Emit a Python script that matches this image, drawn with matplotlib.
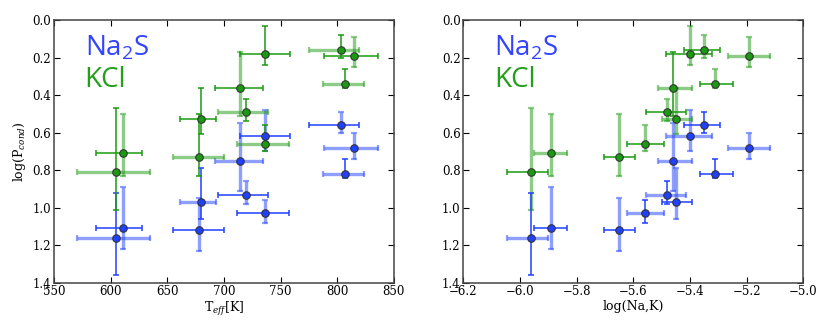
import numpy as np
import matplotlib
matplotlib.use("Agg")
import matplotlib.pyplot as plt

# 11 objets : Teff, log(Na,K), log(P_cond) pour Na2S et KCl
teff = [605, 611, 680, 678, 714.5, 719.5, 736.5, 736, 803, 815, 807]
teff_lo = [35, 23.5, 19, 23, 22, 25, 22, 24.5, 27.5, 27, 19.5]
teff_hi = [29.5, 17, 13, 22, 20, 19, 22, 21.5, 16.5, 21, 17]

nak = [-5.96, -5.89, -5.45, -5.65, -5.46, -5.48, -5.40, -5.56, -5.35, -5.19, -5.31]
nak_lo = [0.086, 0.060, 0.049, 0.054, 0.052, 0.076, 0.083, 0.062, 0.069, 0.076, 0.055]
nak_hi = [0.059, 0.056, 0.057, 0.056, 0.068, 0.067, 0.077, 0.067, 0.056, 0.074, 0.062]

p_kcl = [0.81, 0.71, 0.53, 0.73, 0.36, 0.49, 0.18, 0.66, 0.16, 0.19, 0.34]
p_kcl_lo = [0.34, 0.21, 0.17, 0.23, 0.19, 0.07, 0.15, 0.10, 0.08, 0.10, 0.08]
p_kcl_hi = [0.20, 0.12, 0.08, 0.10, 0.15, 0.05, 0.06, 0.04, 0.04, 0.06, 0.02]

p_na2s = [1.16, 1.11, 0.97, 1.12, 0.75, 0.93, 0.62, 1.03, 0.56, 0.68, 0.82]
p_na2s_lo = [0.24, 0.22, 0.18, 0.17, 0.20, 0.07, 0.14, 0.07, 0.07, 0.08, 0.08]
p_na2s_hi = [0.20, 0.11, 0.09, 0.11, 0.16, 0.05, 0.08, 0.05, 0.04, 0.06, 0.02]

# style des barres (x, y) : T = epaisse claire, t = fine foncee
sty_left_kcl = ["Tt", "tT", "tt", "Tt", "tT", "Tt", "tt", "Tt", "Tt", "tT", "Tt"]
sty_left_na2s = ["Tt", "tT", "Tt", "tT", "TT", "tT", "tT", "tT", "tT", "TT", "Tt"]
sty_right_kcl = ["tT", "TT", "TT", "tT", "Tt", "tT", "tT", "tT", "tT", "TT", "tT"]
sty_right_na2s = ["Tt", "tT", "tT", "tT", "TT", "Tt", "TT", "Tt", "tt", "TT", "tt"]

BLUE = "#2040ff"
GREEN = "#1a9a10"

plt.rcParams["font.family"] = "DejaVu Serif"
plt.rcParams["mathtext.fontset"] = "dejavuserif"


def bar(ax, x, y, xerr=None, yerr=None, color="k", thick=False):
    if thick:
        ax.errorbar(x, y, xerr=xerr, yerr=yerr, fmt="none", ecolor=color,
                    alpha=0.5, elinewidth=2.4, capsize=2.5, capthick=1.6, zorder=2)
    else:
        ax.errorbar(x, y, xerr=xerr, yerr=yerr, fmt="none", ecolor=color,
                    elinewidth=1.1, capsize=2.5, capthick=1.1, zorder=3)


def panel(ax, xs, xlo, xhi, series):
    for ys, ylo, yhi, sty, col in series:
        for i in range(len(xs)):
            bar(ax, xs[i], ys[i], xerr=[[xlo[i]], [xhi[i]]], color=col, thick=sty[i][0] == "T")
            bar(ax, xs[i], ys[i], yerr=[[ylo[i]], [yhi[i]]], color=col, thick=sty[i][1] == "T")
        ax.plot(xs, ys, "o", ms=5.4, mfc=col, mec="#333333", mew=0.8, ls="none", zorder=4)
    ax.set_ylim(1.4, 0.0)
    ax.set_yticks(np.arange(0, 1.41, 0.2))
    ax.tick_params(direction="in", top=True, right=True, labelsize=8.5, length=4,
                   width=0.8, pad=2)
    for s in ax.spines.values():
        s.set_color("#444444")
        s.set_linewidth(1.1)
    ax.text(0.09, 0.865, r"Na$_\mathregular{2}$S", transform=ax.transAxes, color="#3344ff",
            fontsize=20, family="Open Sans")
    ax.text(0.09, 0.745, "KCl", transform=ax.transAxes, color="#22a018",
            fontsize=20, family="Open Sans")


fig = plt.figure(figsize=(8.31, 3.24), dpi=100)
ax1 = fig.add_axes([0.065, 0.1275, 0.409, 0.8107])
ax2 = fig.add_axes([0.5575, 0.1275, 0.409, 0.8107])

panel(ax1, teff, teff_lo, teff_hi,
      [(p_na2s, p_na2s_lo, p_na2s_hi, sty_left_na2s, BLUE),
       (p_kcl, p_kcl_lo, p_kcl_hi, sty_left_kcl, GREEN)])
ax1.set_xlim(550, 850)
ax1.set_xticks(np.arange(550, 851, 50))
ax1.set_xlabel(r"T$_{eff}$[K]", fontsize=9, labelpad=1)
ax1.set_ylabel(r"log(P$_{cond}$)", fontsize=9, labelpad=3)

panel(ax2, nak, nak_lo, nak_hi,
      [(p_na2s, p_na2s_lo, p_na2s_hi, sty_right_na2s, BLUE),
       (p_kcl, p_kcl_lo, p_kcl_hi, sty_right_kcl, GREEN)])
ax2.set_xlim(-6.2, -5.0)
ax2.set_xticks(np.arange(-6.2, -4.99, 0.2))
ax2.set_xlabel("log(Na,K)", fontsize=9, labelpad=1)

fig.savefig("out.png", dpi=100)
